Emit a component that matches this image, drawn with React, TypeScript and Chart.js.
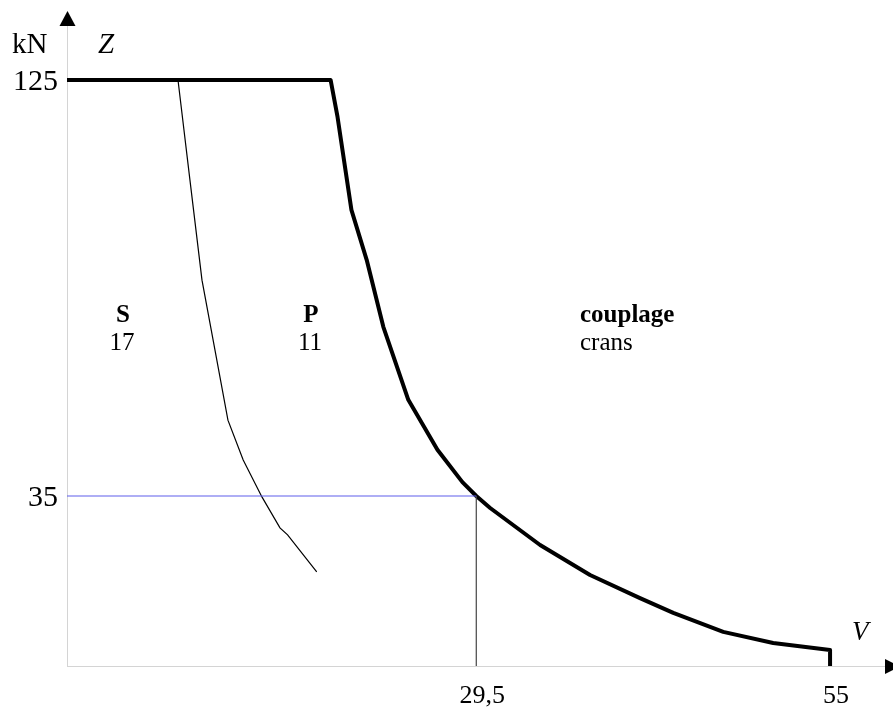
import React, { useEffect, useRef } from "react";
import { Chart, registerables } from "chart.js";

Chart.register(...registerables);

// Thick curve: "couplage P" limit (V in km/h, Z in kN)
const mainV = [0, 19.0, 19.5, 20.5, 21.6, 22.8, 24.6, 26.7, 28.5, 29.5, 30.5, 34.1, 37.7, 41.3, 43.7, 47.3, 50.9, 55, 55];
const mainZ = [125, 125, 117.0, 96.9, 86.1, 71.6, 55.8, 45.0, 38.0, 35, 32.4, 24.4, 17.9, 12.9, 9.7, 5.6, 3.2, 1.7, -1.78];

// Thin curve: "couplage S" limit
const sV = [8.0, 8.86, 9.73, 10.8, 11.6, 12.7, 14.05, 15.35, 15.9, 18.0];
const sZ = [125, 103.4, 81.7, 64.4, 51.4, 42.8, 34.8, 28.1, 26.6, 18.6];

// Reference point
const refV = 29.5;
const refZ = 35;

// Tick labels
const xTickValues = [29.5, 55];
const xTickLabels = ["29,5", "55"];
const yTickValues = [35, 125];
const yTickLabels = ["35", "125"];

const X_MIN = 0;
const X_MAX = 58.96;
const Y_MIN = -1.78;
const Y_MAX = 139.71;

const SERIF = '"Liberation Serif", "Times New Roman", "DejaVu Serif", serif';

const toXY = (xs: number[], ys: number[]) => xs.map((x, i) => ({ x, y: ys[i] }));

const decorPlugin = {
  id: "decor",
  beforeDatasetsDraw(chart: any) {
    const { ctx, chartArea } = chart;
    const { left, right, top, bottom } = chartArea;
    ctx.save();
    ctx.strokeStyle = "#d4d4d4";
    ctx.lineWidth = 1;
    ctx.beginPath();
    ctx.moveTo(left, bottom + 0.5);
    ctx.lineTo(right, bottom + 0.5);
    ctx.moveTo(left + 0.5, bottom);
    ctx.lineTo(left + 0.5, top);
    ctx.stroke();
    // arrows
    ctx.fillStyle = "#000";
    ctx.beginPath();
    ctx.moveTo(left + 0.5, top - 1);
    ctx.lineTo(left - 7.5, top + 14);
    ctx.lineTo(left + 8.5, top + 14);
    ctx.closePath();
    ctx.fill();
    ctx.beginPath();
    ctx.moveTo(right + 15, bottom + 0.5);
    ctx.lineTo(right, bottom - 7);
    ctx.lineTo(right, bottom + 8);
    ctx.closePath();
    ctx.fill();
    ctx.restore();
  },
  afterDraw(chart: any) {
    const { ctx, chartArea, scales } = chart;
    const xs = scales.x;
    const ys = scales.y;
    ctx.save();
    ctx.fillStyle = "#000";
    ctx.textBaseline = "alphabetic";
    // y tick labels
    ctx.font = `30px ${SERIF}`;
    ctx.textAlign = "right";
    yTickValues.forEach((v, i) => {
      ctx.fillText(yTickLabels[i], chartArea.left - 9, ys.getPixelForValue(v) + 10);
    });
    // x tick labels
    ctx.font = `26px ${SERIF}`;
    ctx.textAlign = "center";
    xTickValues.forEach((v, i) => {
      ctx.fillText(xTickLabels[i], xs.getPixelForValue(v) + 6, chartArea.bottom + 37);
    });
    // axis titles
    ctx.font = `29px ${SERIF}`;
    ctx.textAlign = "left";
    ctx.fillText("kN", 12, 53);
    ctx.font = `italic 29px ${SERIF}`;
    ctx.fillText("Z", 98, 53);
    ctx.font = `italic 27px ${SERIF}`;
    ctx.fillText("V", 852, 640);
    // region labels
    ctx.font = `bold 25px ${SERIF}`;
    ctx.textAlign = "center";
    ctx.fillText("S", 123, 322);
    ctx.fillText("P", 311, 322);
    ctx.textAlign = "left";
    ctx.fillText("couplage", 580, 322);
    ctx.font = `25px ${SERIF}`;
    ctx.textAlign = "center";
    ctx.fillText("17", 122, 350);
    ctx.fillText("11", 310, 350);
    ctx.textAlign = "left";
    ctx.fillText("crans", 580, 350);
    ctx.restore();
  },
};

export default function App() {
  const canvasRef = useRef<HTMLCanvasElement | null>(null);

  useEffect(() => {
    const canvas = canvasRef.current;
    if (!canvas) return;
    const chart = new Chart(canvas, {
      type: "scatter",
      data: {
        datasets: [
          {
            label: "ref-h",
            data: [
              { x: X_MIN, y: refZ },
              { x: refV, y: refZ },
            ],
            showLine: true,
            borderColor: "rgb(95,95,235)",
            borderWidth: 1.2,
            pointRadius: 0,
          },
          {
            label: "ref-v",
            data: [
              { x: refV, y: Y_MIN },
              { x: refV, y: refZ },
            ],
            showLine: true,
            borderColor: "#444",
            borderWidth: 1.2,
            pointRadius: 0,
          },
          {
            label: "S",
            data: toXY(sV, sZ),
            showLine: true,
            borderColor: "#000",
            borderWidth: 1.2,
            pointRadius: 0,
            tension: 0,
          },
          {
            label: "P",
            data: toXY(mainV, mainZ),
            showLine: true,
            borderColor: "#000",
            borderWidth: 4,
            pointRadius: 0,
            tension: 0,
            borderJoinStyle: "round",
          },
        ],
      },
      options: {
        responsive: false,
        animation: false,
        devicePixelRatio: 1,
        layout: { padding: { left: 67, right: 8, top: 12, bottom: 48 } },
        plugins: { legend: { display: false }, tooltip: { enabled: false } },
        scales: {
          x: { type: "linear", min: X_MIN, max: X_MAX, display: false },
          y: { type: "linear", min: Y_MIN, max: Y_MAX, display: false },
        },
      },
      plugins: [decorPlugin],
    } as any);
    return () => chart.destroy();
  }, []);

  return (
    <div style={{ position: "absolute", left: 0, top: 0, width: 893, height: 714, background: "#fff" }}>
      <canvas ref={canvasRef} width={893} height={714} style={{ width: 893, height: 714, display: "block" }} />
    </div>
  );
}
